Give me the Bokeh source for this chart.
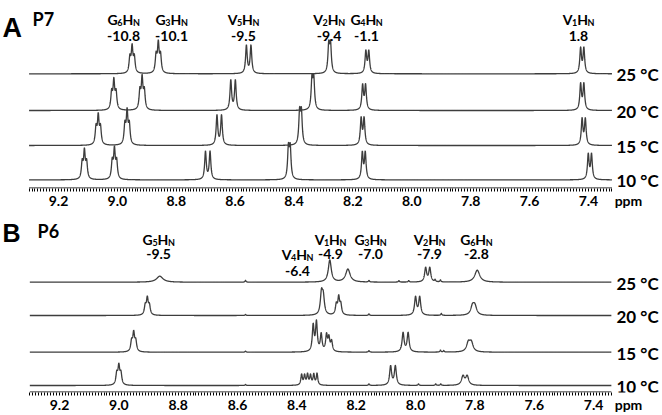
import numpy as np
from bokeh.plotting import figure
from bokeh.models import Range1d, LinearAxis, FixedTicker, ColumnDataSource
from bokeh.layouts import column
from bokeh.embed import file_html
from bokeh.resources import INLINE
from bokeh.core.properties import value

FONT = "Lato"
temps = ["25 °C", "20 °C", "15 °C", "10 °C"]

# ---------------- Panel A : P7 (peak groups, ppm / height) ----------------
a_res = ["G6", "G3", "V5", "V2", "G4", "V1"]
a_dss = ["-10.8", "-10.1", "-9.5", "-9.4", "-1.1", "1.8"]
a_lab_ppm = [8.979, 8.816, 8.572, 8.281, 8.154, 7.434]
a_pos_25 = [8.950, 8.861, 8.554, 8.279, 8.151, 7.421]
a_pos_20 = [9.012, 8.916, 8.607, 8.336, 8.162, 7.421]
a_pos_15 = [9.065, 8.967, 8.654, 8.378, 8.167, 7.416]
a_pos_10 = [9.112, 9.010, 8.693, 8.416, 8.163, 7.395]
a_hgt_25 = [30, 34, 29, 34, 24, 27]
a_hgt_20 = [33, 36, 31, 37, 27, 28]
a_hgt_15 = [33, 38, 31, 39, 29, 28]
a_hgt_10 = [32, 34, 29, 37.5, 29, 27]
a_mult = ["t", "t", "d", "d", "d", "d"]
a_J = [0.0075, 0.0075, 0.0155, 0.006, 0.010, 0.011]

# ---------------- Panel B : P6 (individual lines: ppm, height, half-width) ----------------
b_res = ["G5", "V4", "V1", "G3", "V2", "G6"]
b_dss = ["-9.5", "-6.4", "-4.9", "-7.0", "-7.9", "-2.8"]
b_lab_ppm = [8.866, 8.398, 8.287, 8.152, 7.953, 7.795]
b_lab_low = [0, 1, 0, 0, 0, 0]

b_pos_25 = [8.862, 8.573, 8.289, 8.228, 8.157, 8.056, 8.023, 7.966, 7.952, 7.934, 7.916, 7.792]
b_hgt_25 = [6, 1.8, 22, 13, 1.5, 1.5, 1.5, 14, 14, 2, 2, 12]
b_wid_25 = [0.013, 0.002, 0.006, 0.009, 0.002, 0.002, 0.002, 0.004, 0.004, 0.002, 0.002, 0.010]

b_pos_20 = [8.911, 8.904, 8.897, 8.573, 8.317, 8.311, 8.267, 8.259, 8.252, 8.157, 8.000, 7.986, 7.913, 7.808, 7.800]
b_hgt_20 = [9, 16, 9, 1, 21, 17, 10, 17, 10, 1.5, 18, 18, 2, 8.5, 8.5]
b_wid_20 = [0.0035, 0.0035, 0.0035, 0.002, 0.0045, 0.0045, 0.0035, 0.0035, 0.0035, 0.002, 0.004, 0.004, 0.002, 0.007, 0.007]

b_pos_15 = [8.957, 8.950, 8.943, 8.573, 8.345, 8.334, 8.318, 8.300, 8.292, 8.283, 8.157, 8.042, 8.025, 7.916, 7.905, 7.822, 7.812]
b_hgt_15 = [10, 18, 10, 1, 26, 29, 17, 16, 13, 10, 1.5, 19, 19, 2, 1.5, 9, 9]
b_wid_15 = [0.0035, 0.0035, 0.0035, 0.002, 0.0035, 0.0035, 0.0035, 0.0035, 0.0035, 0.0035, 0.002, 0.004, 0.004, 0.002, 0.002, 0.007, 0.007]

b_pos_10 = [9.007, 9.000, 8.993, 8.573, 8.384, 8.374, 8.364, 8.354, 8.343, 8.332, 8.157, 8.084, 8.068, 7.990, 7.932, 7.915, 7.840, 7.826]
b_hgt_10 = [11, 18, 11, 1, 10.5, 9.5, 10.5, 9.5, 10.5, 11.5, 1.5, 19, 19, 1.5, 1.5, 1.5, 9, 9]
b_wid_10 = [0.0035, 0.0035, 0.0035, 0.002, 0.003, 0.003, 0.003, 0.003, 0.003, 0.003, 0.002, 0.004, 0.004, 0.002, 0.002, 0.002, 0.006, 0.006]

# ---------------- layout helpers (page pixel -> ppm calibration) ----------------
def a_ppm(px):
    return 9.2 - (px - 58) / 294.4

def b_ppm(px):
    return 9.2 - (px - 59) / 296.7

A_BASE = [113.7, 77.0, 42.0, 7.6]
B_BASE = [109.3, 76.0, 39.3, 6.0]
A_END, B_END = 7.32, 7.34
HW_A = 0.0033

def lor(x, c, w):
    return 1.0 / (1.0 + ((x - c) / w) ** 2)

def group_shape(x, c, mult, J, w):
    if mult == "t":
        offs, rel = [-J, 0.0, J], [0.6, 1.0, 0.6]
    else:
        offs, rel = [-J / 2, J / 2], [1.0, 1.0]
    s = sum(r * lor(x, c + o, w) for o, r in zip(offs, rel))
    return s / s.max()

LINE_COLOR = "#3d3d3d"
W = {"G": 0.70, "V": 0.66, "H": 0.74, "N": 0.74}
BIG, SUB = 14, 9

def char_w(s, size):
    return sum(W.get(ch, 0.58) * size for ch in s)

def add_peak_labels(p, res, dss, xs, y1s, y2s):
    big = dict(x=[], y=[], t=[], xo=[])
    sub = dict(x=[], y=[], t=[], xo=[])
    for r, x, y in zip(res, xs, y1s):
        pieces = [(r[0], BIG), (r[1:], SUB), ("H", BIG), ("N", SUB)]
        total = sum(char_w(s, sz) for s, sz in pieces)
        cur = -total / 2
        for s, sz in pieces:
            d = big if sz == BIG else sub
            d["x"].append(x); d["y"].append(y); d["t"].append(s); d["xo"].append(cur)
            cur += char_w(s, sz)
    p.text(x="x", y="y", text="t", x_offset="xo", source=ColumnDataSource(big),
           text_font=value(FONT), text_font_style="bold", text_font_size="14px",
           text_align="left", text_baseline="alphabetic", text_color="black")
    p.text(x="x", y="y", text="t", x_offset="xo", y_offset=3, source=ColumnDataSource(sub),
           text_font=value(FONT), text_font_style="bold", text_font_size="9px",
           text_align="left", text_baseline="alphabetic", text_color="black")
    p.text(x=xs, y=y2s, text=dss, text_font=value(FONT), text_font_style="bold",
           text_font_size="14px", text_align="center", text_baseline="alphabetic",
           text_color="black")

def make_fig(frame_h, xr, yr, end, ppm_at):
    p = figure(frame_width=662, frame_height=frame_h, x_range=Range1d(*xr), y_range=Range1d(*yr),
               output_backend="svg", toolbar_location=None,
               x_axis_location=None, y_axis_location=None,
               min_border_left=0, min_border_right=0, min_border_top=0, min_border_bottom=0)
    p.outline_line_color = None
    p.grid.visible = False
    major = [round(7.4 + 0.1 * i, 1) for i in range(20)]
    ppm_tick = round(ppm_at, 4)
    minor = [round(end + 0.01 * i, 2) for i in range(int(round((9.30 - end) / 0.01)) + 1)]
    overrides = {t: ("" if int(round(t * 10)) % 2 else f"{t:.1f}") for t in major}
    overrides[ppm_tick] = "ppm"
    ax = LinearAxis(ticker=FixedTicker(ticks=major + [ppm_tick], minor_ticks=minor),
                    major_label_overrides=overrides)
    ax.axis_line_color = None
    ax.major_tick_line_color = None
    ax.major_tick_out = 3
    ax.major_tick_in = 0
    ax.minor_tick_line_color = "black"
    ax.minor_tick_out = 3
    ax.minor_tick_in = 0
    ax.major_label_standoff = 0
    ax.major_label_text_font = FONT
    ax.major_label_text_font_style = "bold"
    ax.major_label_text_font_size = "14px"
    ax.major_label_text_color = "black"
    p.add_layout(ax, "below")
    # axis line between the spectrum limits
    p.line(x=[9.30, end], y=[yr[0] + 0.5, yr[0] + 0.5], line_color="black", line_width=1)
    return p

# ---------------- Figure A ----------------
pA = make_fig(188, (a_ppm(0), a_ppm(662)), (-1, 187), A_END, a_ppm(628))
xa = np.linspace(9.30, A_END, 6000)
for base, pos, hgt in zip(A_BASE, [a_pos_25, a_pos_20, a_pos_15, a_pos_10],
                          [a_hgt_25, a_hgt_20, a_hgt_15, a_hgt_10]):
    y = np.full_like(xa, base)
    for c, h, m, J in zip(pos, hgt, a_mult, a_J):
        y += h * group_shape(xa, c, m, J, HW_A)
    pA.line(xa, y, line_color=LINE_COLOR, line_width=1.3)

pA.text(x=[a_ppm(616)] * 4, y=[b - 1 for b in A_BASE], text=temps, text_font=value(FONT),
        text_font_style="bold", text_font_size="17px", text_align="left",
        text_baseline="middle", text_color="black")
add_peak_labels(pA, a_res, a_dss, a_lab_ppm, [168.5] * 6, [152] * 6)
pA.text(x=[a_ppm(2)], y=[160], text=["A"], text_font=value("Liberation Sans"),
        text_font_style="bold", text_font_size="27px", text_align="left",
        text_baseline="alphabetic", text_color="black")
pA.text(x=[a_ppm(32)], y=[169], text=["P7"], text_font=value(FONT),
        text_font_style="bold", text_font_size="18px", text_align="left",
        text_baseline="alphabetic", text_color="black")

# ---------------- Figure B ----------------
pB = make_fig(181, (b_ppm(0), b_ppm(662)), (-1, 180), B_END, b_ppm(628))
xb = np.linspace(9.30, B_END, 6000)
for base, pos, hgt, wid in zip(B_BASE, [b_pos_25, b_pos_20, b_pos_15, b_pos_10],
                               [b_hgt_25, b_hgt_20, b_hgt_15, b_hgt_10],
                               [b_wid_25, b_wid_20, b_wid_15, b_wid_10]):
    y = np.full_like(xb, base)
    for c, h, w in zip(pos, hgt, wid):
        y += h * lor(xb, c, w)
    pB.line(xb, y, line_color=LINE_COLOR, line_width=1.3)

pB.text(x=[b_ppm(616)] * 4, y=[b - 1 for b in B_BASE], text=temps, text_font=value(FONT),
        text_font_style="bold", text_font_size="17px", text_align="left",
        text_baseline="middle", text_color="black")
add_peak_labels(pB, b_res, b_dss, b_lab_ppm,
                [137 if low else 152 for low in b_lab_low],
                [121 if low else 138 for low in b_lab_low])
pB.text(x=[b_ppm(2)], y=[159], text=["B"], text_font=value("Liberation Sans"),
        text_font_style="bold", text_font_size="25px", text_align="left",
        text_baseline="alphabetic", text_color="black")
pB.text(x=[b_ppm(37)], y=[161], text=["P6"], text_font=value(FONT),
        text_font_style="bold", text_font_size="18px", text_align="left",
        text_baseline="alphabetic", text_color="black")

layout = column(pA, pB, spacing=0)
open("out.html", "w").write(file_html(layout, INLINE))
